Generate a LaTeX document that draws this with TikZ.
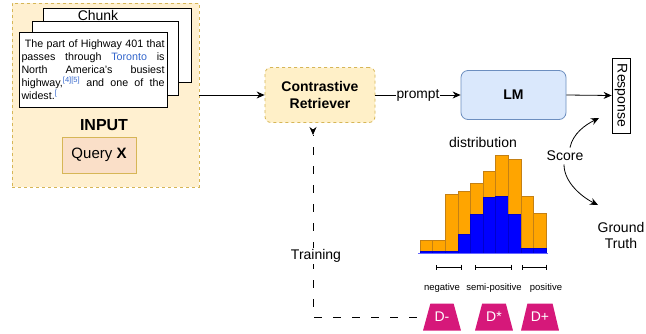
\documentclass[tikz,border=0pt]{standalone}
\usepackage{fontspec}
\setmainfont{Liberation Sans}
\usetikzlibrary{arrows.meta,shapes.geometric}
\definecolor{inputfill}{RGB}{255,240,208}
\definecolor{inputdraw}{RGB}{214,182,86}
\definecolor{queryfill}{RGB}{250,223,200}
\definecolor{retrfill}{RGB}{255,240,200}
\definecolor{lmfill}{RGB}{218,232,252}
\definecolor{lmdraw}{RGB}{108,142,191}
\definecolor{linkblue}{RGB}{51,102,204}
\definecolor{barorange}{RGB}{255,165,0}
\definecolor{barorangedraw}{RGB}{196,128,20}
\definecolor{dmagenta}{RGB}{214,24,122}
\tikzset{
  arr/.style={-{Stealth[length=8pt,width=7pt]}, line width=0.8pt},
  pagebox/.style={draw, line width=0.8pt, fill=white, inner sep=0pt},
  dbox/.style={trapezium, trapezium left angle=64, trapezium right angle=64,
    trapezium stretches=true, minimum width=38pt, minimum height=27pt,
    fill=dmagenta, inner sep=0pt, text=white, font=\fontsize{14}{14}\selectfont},
  interval/.style={{Bar[width=5pt]}-{Bar[width=5pt]}, line width=0.7pt},
  lbl/.style={font=\fontsize{14}{15.5}\selectfont},
  smalllbl/.style={font=\fontsize{9.5}{11}\selectfont},
}
\begin{document}
\begin{tikzpicture}[x=1pt,y=-1pt]
\useasboundingbox (0,0) rectangle (646,333);
\fill[white] (0,0) rectangle (646,333);

% INPUT region
\node[draw=inputdraw, fill=inputfill, dash pattern=on 3pt off 3pt, line width=0.7pt,
  minimum width=187pt, minimum height=184pt, inner sep=0pt] (input) at (105.5,95) {};
\node[pagebox, minimum width=148pt, minimum height=74pt] (p3) at (117,45) {};
\node[lbl, anchor=center] (chunk) at (98,15) {Chunk};
\node[pagebox, minimum width=146pt, minimum height=74pt] (p2) at (105,58) {};
\node[pagebox, minimum width=148pt, minimum height=75pt, align=left,
  font=\fontsize{10.7}{12.9}\selectfont] (p1) at (93,69.5) {%
  \makebox[143pt][s]{\ The part of Highway 401 that}\\
  \makebox[143pt][s]{passes through \textcolor{linkblue}{Toronto} is}\\
  \makebox[143pt][s]{North America's busiest}\\
  \makebox[143pt][s]{highway,\textsuperscript{\textcolor{linkblue}{[4][5]}} and one of the}\\
  \makebox[143pt][l]{widest.\textsuperscript{\textcolor{linkblue}{[}}}};
\node[font=\bfseries\fontsize{16}{18}\selectfont] (inputlbl) at (104,125) {INPUT};
\node[draw=inputdraw, fill=queryfill, line width=0.8pt, minimum width=74pt,
  minimum height=36pt, font=\fontsize{15}{16}\selectfont] (query) at (99,155) {Query \textbf{X}};

% main chain
\node[draw=inputdraw, fill=retrfill, dashed, line width=0.8pt, rounded corners=6pt,
  minimum width=110pt, minimum height=55pt, align=center,
  font=\bfseries\fontsize{14}{17}\selectfont] (retr) at (320,95) {Contrastive\\Retriever};
\node[draw=lmdraw, fill=lmfill, line width=0.8pt, rounded corners=7pt,
  minimum width=105pt, minimum height=49pt,
  font=\bfseries\fontsize{14}{15}\selectfont] (lm) at (513.5,95) {LM};
\node[draw, line width=0.8pt, fill=white, rotate=-90, minimum width=75pt,
  minimum height=18pt, inner sep=0.5pt, font=\fontsize{14}{15}\selectfont] (resp) at (621,95.5) {Response};

\draw[arr] (input.east |- retr.west) -- (retr.west);
\draw[arr] (retr.east) -- node[fill=white, inner sep=1pt, font=\fontsize{13.8}{15}\selectfont] (prompt) {prompt} (lm.west);
\draw[arr] (lm.east) -- (resp.south);

% score
\node[lbl] (score) at (565,156) {Score};
\coordinate (uptip) at (599,118);
\coordinate (downtip) at (598,205);
\draw[arr] ([xshift=5pt]score.north) .. controls +(3,-14) and +(-14,7) .. (uptip);
\draw[arr] ([xshift=-1pt]score.south) .. controls +(0,18) and +(-16,-8) .. (downtip);
\node[lbl, align=center] (gt) at (621,235.5) {Ground\\Truth};

% distribution
\node[lbl] (dist) at (483,142) {distribution};
\def\bw{12.6}
\foreach \o/\b [count=\i from 0] in {240/251,240/251,194/251,191/234,183/214,171/197,155/196,159/214,196/248,213/248}{
  \pgfmathsetmacro{\xa}{420+\bw*\i}
  \pgfmathsetmacro{\xb}{420+\bw*(\i+1)}
  \filldraw[fill=barorange, draw=barorangedraw, line width=0.5pt] (\xa,\o) rectangle (\xb,253);
  \filldraw[fill=blue, draw=blue!80!black, line width=0.4pt] (\xa,\b) rectangle (\xb,253);
}
\draw[blue!60, line width=0.6pt] (418,253.5) -- (548,253.5);

% intervals
\draw[interval] (436,267) -- (462,267);
\draw[interval] (475,267) -- (512,267);
\draw[interval] (522,267) -- (547,267);
\node[smalllbl] (neg) at (442,288) {negative};
\node[smalllbl] (semi) at (494,288) {semi-positive};
\node[smalllbl] (pos) at (546,288) {positive};

% D boxes
\node[dbox] (dminus) at (442,317) {D-};
\node[dbox] (dstar) at (494,317) {D*};
\node[dbox] (dplus) at (540,317) {D+};

% training
\coordinate (traintip) at (313,135);
\draw[line width=0.8pt, dash pattern=on 8pt off 11pt] ([xshift=-10pt]dminus.west) -| (traintip);
\draw[-{Stealth[length=8pt,width=7pt]}, line width=0.8pt] ([yshift=6pt]traintip) -- (traintip);
\node[lbl, fill=white, inner sep=1pt] (train) at (316,256) {Training};
\end{tikzpicture}
\end{document}
